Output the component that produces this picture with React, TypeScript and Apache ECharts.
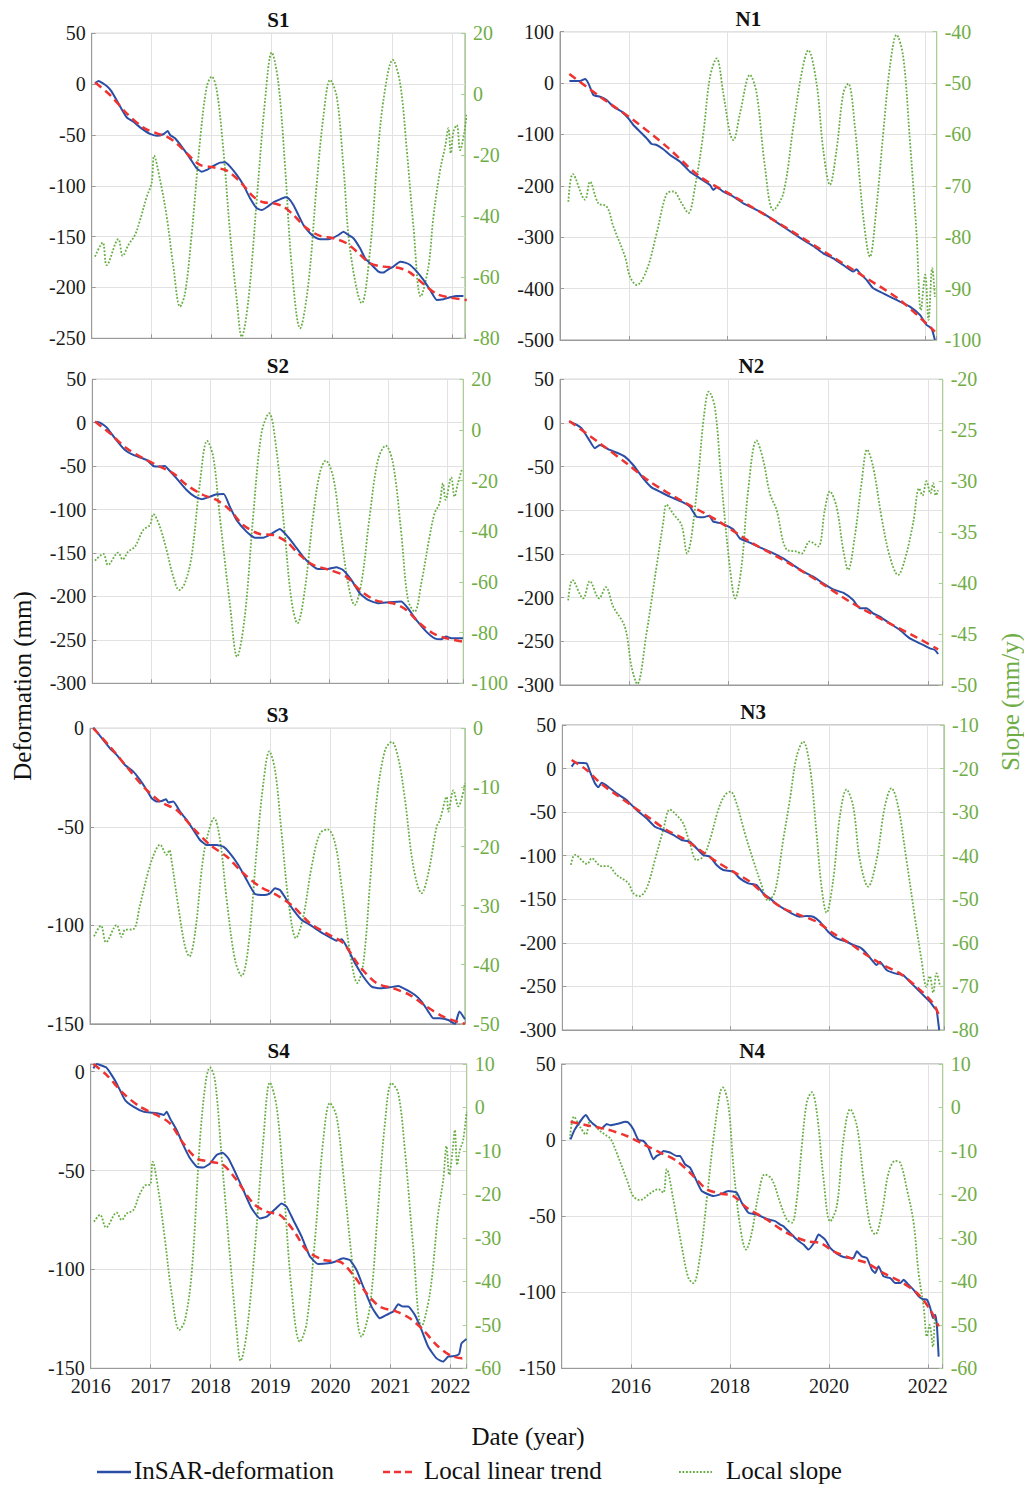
import React, { useEffect, useRef } from 'react';
import * as echarts from 'echarts';

// ---------------- DATA ----------------
type P = [number, number];

const S1_def: P[] = [[2016.056,0.8],[2016.111,3.1],[2016.25,-1.8],[2016.333,-7.4],[2016.444,-18.9],[2016.583,-32.6],[2016.694,-36.9],[2016.806,-42.5],[2016.972,-49.0],[2017.083,-50.7],[2017.194,-49.3],[2017.267,-46.1],[2017.306,-50.0],[2017.389,-53.3],[2017.5,-61.5],[2017.639,-73.0],[2017.75,-82.8],[2017.833,-86.1],[2017.917,-84.4],[2018.028,-80.5],[2018.139,-77.2],[2018.222,-76.9],[2018.306,-81.1],[2018.417,-89.3],[2018.528,-99.2],[2018.639,-112.3],[2018.75,-122.1],[2018.833,-123.8],[2018.917,-121.1],[2019.028,-116.2],[2019.139,-113.3],[2019.222,-111.3],[2019.278,-112.3],[2019.361,-118.9],[2019.444,-128.7],[2019.528,-138.5],[2019.639,-146.7],[2019.722,-150.7],[2019.806,-152.6],[2019.944,-152.6],[2020.028,-151.0],[2020.111,-148.4],[2020.194,-145.1],[2020.278,-148.4],[2020.361,-151.6],[2020.472,-161.5],[2020.556,-171.3],[2020.667,-177.9],[2020.778,-184.4],[2020.861,-185.4],[2020.944,-182.1],[2021.028,-179.5],[2021.139,-174.6],[2021.222,-175.6],[2021.306,-177.9],[2021.417,-184.4],[2021.528,-192.6],[2021.639,-202.5],[2021.75,-212.3],[2021.861,-211.6],[2021.972,-209.7],[2022.083,-208.4],[2022.194,-208.4]];
const S1_trend: P[] = [[2016.056,1.5],[2016.306,-10.7],[2016.583,-28.7],[2016.861,-42.8],[2017.083,-48.4],[2017.25,-51.6],[2017.417,-58.2],[2017.583,-68.0],[2017.806,-79.5],[2018.028,-81.8],[2018.25,-85.1],[2018.472,-95.9],[2018.694,-110.7],[2018.861,-116.2],[2019.028,-117.2],[2019.194,-120.5],[2019.361,-128.7],[2019.583,-141.8],[2019.806,-149.3],[2020.028,-151.6],[2020.25,-156.6],[2020.417,-164.8],[2020.639,-176.2],[2020.861,-179.5],[2021.139,-181.1],[2021.306,-185.4],[2021.528,-196.6],[2021.75,-206.4],[2021.972,-210.0],[2022.25,-212.3]];
const S1_slope: P[] = [[2016.056,-53.2],[2016.183,-48.6],[2016.25,-56.0],[2016.444,-47.5],[2016.517,-53.0],[2016.611,-49.4],[2016.722,-46.1],[2016.806,-41.2],[2016.917,-33.6],[2017.0,-29.0],[2017.039,-20.1],[2017.139,-28.1],[2017.25,-40.1],[2017.361,-56.5],[2017.472,-69.6],[2017.556,-65.2],[2017.667,-45.6],[2017.806,-15.0],[2017.917,2.5],[2018.0,5.8],[2018.083,1.4],[2018.194,-18.3],[2018.306,-45.6],[2018.417,-67.4],[2018.5,-79.5],[2018.611,-67.4],[2018.75,-34.6],[2018.889,-1.9],[2019.0,13.7],[2019.111,3.6],[2019.222,-23.7],[2019.333,-56.5],[2019.472,-76.7],[2019.611,-62.0],[2019.75,-29.2],[2019.861,-7.3],[2019.972,4.7],[2020.083,-0.8],[2020.194,-23.7],[2020.306,-51.0],[2020.5,-68.5],[2020.639,-51.0],[2020.75,-23.7],[2020.861,-1.9],[2021.017,11.3],[2021.139,3.6],[2021.25,-18.3],[2021.361,-43.4],[2021.483,-66.3],[2021.611,-56.5],[2021.694,-40.1],[2021.806,-24.8],[2021.889,-17.2],[2021.944,-11.1],[2021.983,-19.3],[2022.028,-12.2],[2022.083,-10.1],[2022.139,-18.3],[2022.206,-12.8],[2022.25,-6.2]];

const N1_def: P[] = [[2014.79,4.0],[2015.007,4.0],[2015.108,7.9],[2015.176,-0.5],[2015.277,-23.2],[2015.412,-26.5],[2015.547,-32.9],[2015.682,-45.9],[2015.851,-55.6],[2015.986,-68.6],[2016.088,-81.6],[2016.223,-94.6],[2016.358,-107.5],[2016.459,-118.5],[2016.561,-120.5],[2016.696,-128.9],[2016.831,-139.9],[2017.034,-152.9],[2017.236,-172.4],[2017.439,-185.3],[2017.642,-198.3],[2017.709,-208.0],[2017.777,-202.9],[2017.912,-211.3],[2018.115,-221.0],[2018.318,-234.0],[2018.52,-243.7],[2018.723,-253.4],[2018.926,-266.4],[2019.128,-279.4],[2019.331,-292.4],[2019.534,-305.3],[2019.736,-317.0],[2019.939,-331.3],[2020.142,-341.0],[2020.345,-354.0],[2020.547,-366.9],[2020.615,-362.4],[2020.682,-370.2],[2020.818,-383.1],[2020.953,-399.4],[2021.155,-409.1],[2021.358,-418.8],[2021.493,-425.3],[2021.696,-435.0],[2021.899,-451.2],[2022.034,-470.7],[2022.135,-477.2],[2022.203,-499.9]];
const N1_trend: P[] = [[2014.79,17.6],[2015.412,-26.5],[2016.088,-71.9],[2016.764,-123.7],[2017.439,-182.1],[2018.115,-219.7],[2019.128,-278.1],[2020.142,-339.0],[2020.818,-379.9],[2021.493,-422.0],[2022.203,-483.7]];
const N1_slope: P[] = [[2014.77,-73.1],[2014.86,-67.7],[2015.108,-72.7],[2015.209,-69.2],[2015.378,-73.4],[2015.547,-74.0],[2015.682,-77.9],[2015.919,-83.8],[2016.02,-87.7],[2016.155,-89.3],[2016.358,-86.4],[2016.561,-79.2],[2016.764,-71.5],[2016.899,-71.1],[2017.068,-73.4],[2017.203,-75.3],[2017.338,-70.2],[2017.507,-59.8],[2017.642,-48.8],[2017.777,-45.2],[2017.912,-52.0],[2018.047,-59.8],[2018.115,-61.1],[2018.25,-55.9],[2018.453,-48.4],[2018.588,-52.0],[2018.757,-66.3],[2018.926,-74.7],[2019.128,-71.5],[2019.331,-58.5],[2019.5,-48.1],[2019.635,-43.6],[2019.804,-50.1],[2019.939,-63.0],[2020.074,-69.8],[2020.209,-63.0],[2020.345,-52.0],[2020.446,-50.1],[2020.581,-58.5],[2020.75,-76.0],[2020.885,-83.8],[2021.02,-74.0],[2021.155,-59.8],[2021.291,-46.8],[2021.426,-40.6],[2021.561,-44.9],[2021.696,-61.1],[2021.831,-79.2],[2021.919,-94.2],[2022.007,-87.3],[2022.074,-96.1],[2022.149,-86.0],[2022.203,-91.6]];

const S2_def: P[] = [[2016.073,1.3],[2016.129,0.1],[2016.242,-5.3],[2016.383,-17.9],[2016.552,-31.4],[2016.692,-37.1],[2016.917,-42.9],[2017.03,-49.8],[2017.142,-50.5],[2017.227,-49.8],[2017.283,-53.6],[2017.424,-64.0],[2017.593,-77.4],[2017.733,-85.1],[2017.846,-88.1],[2017.987,-85.1],[2018.099,-82.4],[2018.222,-82.0],[2018.324,-96.6],[2018.437,-111.9],[2018.606,-125.4],[2018.746,-132.3],[2018.887,-132.3],[2018.999,-129.2],[2019.084,-125.4],[2019.168,-122.3],[2019.252,-127.3],[2019.393,-138.8],[2019.562,-154.1],[2019.703,-163.7],[2019.815,-168.3],[2019.984,-168.3],[2020.125,-166.4],[2020.237,-169.5],[2020.378,-181.0],[2020.518,-196.3],[2020.659,-204.0],[2020.828,-207.9],[2021.025,-206.7],[2021.222,-205.9],[2021.334,-213.6],[2021.475,-227.1],[2021.644,-240.5],[2021.785,-248.2],[2021.897,-249.3],[2021.981,-246.2],[2022.066,-248.2],[2022.264,-248.2]];
const S2_trend: P[] = [[2016.045,1.3],[2016.298,-12.2],[2016.58,-29.4],[2016.861,-40.9],[2017.142,-50.5],[2017.368,-58.2],[2017.593,-71.6],[2017.874,-83.2],[2018.099,-88.9],[2018.324,-100.4],[2018.549,-117.7],[2018.831,-128.1],[2019.056,-129.2],[2019.281,-136.9],[2019.506,-152.2],[2019.731,-163.7],[2020.012,-169.5],[2020.293,-177.2],[2020.518,-192.5],[2020.8,-204.8],[2021.082,-207.9],[2021.307,-215.5],[2021.532,-230.9],[2021.757,-242.4],[2021.982,-248.2],[2022.264,-252.0]];
const S2_slope: P[] = [[2016.045,-51.6],[2016.186,-48.9],[2016.265,-53.3],[2016.439,-48.4],[2016.512,-51.1],[2016.608,-48.0],[2016.72,-46.1],[2016.861,-39.5],[2016.974,-37.5],[2017.03,-33.2],[2017.142,-38.2],[2017.255,-47.4],[2017.368,-57.9],[2017.469,-63.2],[2017.564,-60.5],[2017.677,-50.0],[2017.818,-21.1],[2017.941,-4.3],[2018.043,-10.5],[2018.155,-34.2],[2018.324,-68.4],[2018.448,-89.5],[2018.577,-73.7],[2018.718,-34.2],[2018.859,-1.3],[2018.988,6.6],[2019.112,-7.9],[2019.253,-40.8],[2019.365,-67.1],[2019.467,-76.3],[2019.591,-63.2],[2019.731,-34.2],[2019.844,-17.1],[2019.945,-12.1],[2020.069,-18.4],[2020.181,-36.8],[2020.322,-60.5],[2020.434,-69.1],[2020.547,-60.5],[2020.687,-34.2],[2020.828,-11.8],[2020.958,-6.2],[2021.082,-13.2],[2021.222,-40.8],[2021.335,-67.1],[2021.447,-71.7],[2021.56,-60.5],[2021.7,-42.1],[2021.785,-32.9],[2021.869,-28.9],[2021.926,-21.1],[2021.971,-27.6],[2022.066,-18.7],[2022.122,-26.3],[2022.178,-21.1],[2022.252,-15.1]];

const N2_def: P[] = [[2014.804,1.5],[2014.918,-1.1],[2015.051,-6.1],[2015.185,-17.6],[2015.319,-29.0],[2015.419,-25.2],[2015.619,-30.9],[2015.786,-34.7],[2015.92,-38.5],[2016.087,-48.1],[2016.287,-63.4],[2016.454,-73.7],[2016.621,-78.6],[2016.822,-84.4],[2017.055,-90.1],[2017.222,-95.8],[2017.356,-107.3],[2017.49,-108.0],[2017.61,-106.1],[2017.69,-113.0],[2017.857,-114.9],[2018.091,-121.8],[2018.224,-132.1],[2018.425,-137.0],[2018.625,-142.4],[2018.826,-147.3],[2019.093,-155.0],[2019.293,-162.6],[2019.493,-170.2],[2019.694,-175.9],[2019.894,-183.6],[2020.095,-190.5],[2020.295,-194.3],[2020.495,-202.7],[2020.629,-212.2],[2020.763,-212.2],[2020.896,-217.9],[2021.03,-221.8],[2021.23,-229.4],[2021.431,-237.0],[2021.631,-246.6],[2021.832,-252.3],[2022.032,-258.0],[2022.132,-259.9],[2022.199,-264.5]];
const N2_trend: P[] = [[2014.804,2.3],[2015.419,-23.3],[2015.953,-46.2],[2016.421,-67.2],[2017.089,-90.1],[2017.757,-111.1],[2018.425,-135.9],[2019.093,-156.9],[2019.761,-179.8],[2020.429,-204.6],[2021.097,-225.6],[2021.765,-245.4],[2022.199,-259.2]];
const N2_slope: P[] = [[2014.784,-41.7],[2014.871,-39.7],[2015.085,-41.5],[2015.218,-39.8],[2015.405,-41.5],[2015.539,-40.4],[2015.686,-42.3],[2015.92,-44.3],[2016.053,-48.2],[2016.167,-49.9],[2016.354,-44.9],[2016.554,-38.4],[2016.688,-34.1],[2016.755,-32.3],[2016.888,-33.2],[2017.055,-34.3],[2017.169,-37.1],[2017.256,-35.4],[2017.389,-29.6],[2017.503,-23.7],[2017.603,-21.2],[2017.723,-22.7],[2017.857,-30.2],[2018.024,-38.4],[2018.131,-41.5],[2018.258,-38.4],[2018.391,-30.9],[2018.558,-26.0],[2018.692,-27.9],[2018.826,-31.2],[2018.959,-32.8],[2019.16,-36.7],[2019.36,-36.9],[2019.46,-37.1],[2019.627,-35.9],[2019.794,-36.4],[2019.928,-32.8],[2020.028,-31.0],[2020.162,-32.5],[2020.295,-36.7],[2020.395,-38.7],[2020.529,-35.4],[2020.663,-30.2],[2020.776,-26.9],[2020.896,-28.6],[2021.063,-33.5],[2021.23,-37.4],[2021.397,-39.2],[2021.531,-37.7],[2021.698,-34.1],[2021.818,-30.7],[2021.885,-31.4],[2021.965,-30.0],[2022.045,-31.2],[2022.099,-30.2],[2022.152,-31.4],[2022.199,-30.9]];

const S3_def: P[] = [[2016.056,0.5],[2016.167,-3.9],[2016.333,-10.2],[2016.444,-13.5],[2016.583,-18.6],[2016.722,-22.0],[2016.833,-26.2],[2016.944,-31.3],[2017.028,-35.5],[2017.111,-37.2],[2017.194,-36.9],[2017.267,-36.0],[2017.306,-37.7],[2017.389,-37.2],[2017.5,-42.3],[2017.611,-46.5],[2017.722,-51.6],[2017.833,-56.7],[2017.944,-59.2],[2018.111,-59.2],[2018.222,-60.1],[2018.333,-63.5],[2018.472,-69.4],[2018.611,-77.0],[2018.75,-84.1],[2018.917,-84.6],[2019.0,-83.8],[2019.083,-81.2],[2019.167,-82.1],[2019.278,-87.1],[2019.389,-92.2],[2019.528,-97.3],[2019.667,-99.8],[2019.833,-103.2],[2020.0,-106.1],[2020.111,-107.8],[2020.194,-107.1],[2020.306,-112.5],[2020.417,-119.3],[2020.556,-126.1],[2020.694,-131.1],[2020.833,-132.0],[2021.0,-131.5],[2021.139,-130.8],[2021.278,-132.8],[2021.417,-135.4],[2021.528,-138.7],[2021.639,-143.8],[2021.722,-147.2],[2021.833,-147.2],[2021.972,-148.1],[2022.083,-150.1],[2022.156,-143.8],[2022.25,-147.7]];
const S3_trend: P[] = [[2016.056,0],[2016.333,-9.3],[2016.611,-19.5],[2016.889,-29.6],[2017.167,-37.2],[2017.444,-41.5],[2017.722,-50.8],[2018.0,-59.2],[2018.278,-65.1],[2018.556,-73.6],[2018.833,-80.4],[2019.111,-84.6],[2019.389,-90.5],[2019.667,-99.0],[2019.944,-104.1],[2020.222,-109.1],[2020.5,-121.0],[2020.778,-129.4],[2021.056,-132.0],[2021.333,-135.4],[2021.611,-141.3],[2021.889,-146.4],[2022.25,-150.1]];
const S3_slope: P[] = [[2016.067,-35.2],[2016.183,-33.4],[2016.267,-36.2],[2016.444,-33.3],[2016.528,-35.3],[2016.583,-34.1],[2016.722,-34.0],[2016.833,-29.9],[2016.972,-24.2],[2017.083,-20.9],[2017.167,-19.7],[2017.278,-21.4],[2017.322,-20.6],[2017.361,-22.5],[2017.472,-30.2],[2017.583,-36.9],[2017.656,-38.6],[2017.75,-34.7],[2017.889,-21.7],[2018.0,-16.6],[2018.067,-15.2],[2018.167,-18.9],[2018.278,-29.0],[2018.417,-39.2],[2018.528,-41.9],[2018.639,-36.9],[2018.778,-20.6],[2018.889,-9.3],[2018.989,-3.9],[2019.083,-7.0],[2019.194,-17.8],[2019.306,-29.0],[2019.433,-35.5],[2019.556,-31.8],[2019.694,-23.4],[2019.833,-17.8],[2019.961,-17.1],[2020.083,-19.4],[2020.194,-26.8],[2020.333,-38.0],[2020.456,-43.1],[2020.556,-39.7],[2020.667,-26.2],[2020.778,-12.1],[2020.917,-3.7],[2021.028,-2.3],[2021.139,-5.1],[2021.25,-12.1],[2021.389,-23.4],[2021.528,-27.9],[2021.639,-24.5],[2021.778,-16.6],[2021.833,-15.5],[2021.944,-11.6],[2021.972,-14.1],[2022.056,-10.5],[2022.139,-13.2],[2022.25,-9.3]];

const N3_def: P[] = [[2014.769,2.2],[2014.837,6.8],[2015.073,6.0],[2015.141,-3.6],[2015.242,-16.9],[2015.31,-21.5],[2015.378,-16.2],[2015.513,-20.8],[2015.682,-28.4],[2015.885,-36.1],[2016.088,-47.6],[2016.291,-57.1],[2016.46,-66.7],[2016.629,-70.5],[2016.832,-76.2],[2017.001,-82.0],[2017.171,-83.9],[2017.306,-91.5],[2017.441,-99.2],[2017.576,-101.1],[2017.712,-110.7],[2017.847,-116.4],[2018.05,-118.3],[2018.185,-126.0],[2018.354,-131.7],[2018.524,-133.6],[2018.659,-143.2],[2018.795,-148.9],[2018.93,-155.4],[2019.065,-160.4],[2019.234,-166.1],[2019.403,-170.0],[2019.539,-169.2],[2019.674,-170.0],[2019.809,-175.7],[2019.978,-187.2],[2020.148,-194.8],[2020.351,-198.7],[2020.486,-202.5],[2020.587,-204.4],[2020.655,-206.3],[2020.757,-212.1],[2020.893,-221.6],[2020.96,-225.4],[2021.028,-221.6],[2021.164,-231.2],[2021.333,-235.0],[2021.502,-236.9],[2021.637,-244.6],[2021.806,-254.1],[2021.942,-261.8],[2022.043,-267.5],[2022.144,-275.2],[2022.178,-276.3],[2022.232,-300.0]];
const N3_trend: P[] = [[2014.769,9.8],[2015.073,-1.6],[2015.344,-16.2],[2015.682,-30.3],[2016.02,-43.7],[2016.359,-57.1],[2016.697,-70.5],[2017.035,-80.1],[2017.373,-93.5],[2017.712,-106.8],[2018.05,-118.3],[2018.388,-129.8],[2018.727,-147.0],[2019.065,-160.4],[2019.403,-168.1],[2019.742,-175.7],[2020.08,-189.1],[2020.418,-200.6],[2020.757,-214.0],[2021.095,-225.4],[2021.433,-235.0],[2021.772,-250.3],[2022.11,-269.4],[2022.232,-284.0]];
const N3_slope: P[] = [[2014.755,-42.1],[2014.837,-39.8],[2015.087,-41.9],[2015.175,-40.6],[2015.378,-42.4],[2015.513,-42.4],[2015.682,-44.4],[2015.919,-46.3],[2016.02,-48.6],[2016.142,-49.3],[2016.291,-47.5],[2016.46,-41.0],[2016.629,-34.1],[2016.765,-29.4],[2016.9,-30.7],[2017.035,-32.6],[2017.171,-37.2],[2017.306,-41.0],[2017.441,-40.2],[2017.576,-36.4],[2017.746,-29.5],[2017.881,-26.1],[2017.996,-25.3],[2018.118,-28.0],[2018.287,-34.9],[2018.456,-41.0],[2018.625,-46.7],[2018.76,-50.3],[2018.896,-48.3],[2019.065,-36.4],[2019.2,-27.2],[2019.336,-17.3],[2019.471,-13.8],[2019.607,-19.6],[2019.742,-34.9],[2019.843,-47.1],[2019.945,-53.1],[2020.08,-45.6],[2020.215,-31.0],[2020.351,-24.8],[2020.486,-28.7],[2020.622,-41.0],[2020.791,-47.1],[2020.96,-41.0],[2021.129,-28.7],[2021.264,-24.5],[2021.399,-28.7],[2021.568,-41.0],[2021.737,-54.0],[2021.873,-63.9],[2021.974,-70.1],[2022.042,-67.6],[2022.11,-71.4],[2022.178,-67.0],[2022.245,-69.7]];

const S4_def: P[] = [[2016.044,1.7],[2016.1,3.9],[2016.156,3.4],[2016.256,2.2],[2016.35,-1.7],[2016.433,-5.9],[2016.572,-14.3],[2016.711,-17.7],[2016.878,-20.2],[2017.017,-20.7],[2017.128,-21.1],[2017.222,-21.9],[2017.267,-20.2],[2017.322,-23.6],[2017.433,-29.5],[2017.544,-37.1],[2017.656,-43.8],[2017.767,-48.0],[2017.878,-48.4],[2017.989,-46.4],[2018.1,-42.1],[2018.2,-41.0],[2018.294,-43.8],[2018.406,-50.6],[2018.544,-59.8],[2018.683,-69.1],[2018.822,-74.2],[2018.933,-73.3],[2019.072,-69.6],[2019.183,-66.6],[2019.267,-68.3],[2019.378,-75.0],[2019.517,-83.4],[2019.656,-93.5],[2019.794,-97.3],[2019.961,-96.9],[2020.072,-96.1],[2020.211,-94.4],[2020.322,-95.2],[2020.433,-100.3],[2020.544,-108.7],[2020.683,-118.8],[2020.822,-124.7],[2020.933,-123.0],[2021.044,-121.3],[2021.128,-117.6],[2021.211,-118.8],[2021.294,-118.8],[2021.406,-123.0],[2021.517,-130.6],[2021.628,-139.1],[2021.767,-145.0],[2021.878,-146.6],[2021.961,-144.1],[2022.072,-143.8],[2022.144,-142.8],[2022.183,-137.4],[2022.267,-135.2]];
const S4_trend: P[] = [[2016.044,3.9],[2016.267,-1.7],[2016.544,-11.0],[2016.822,-17.7],[2017.1,-21.9],[2017.322,-26.1],[2017.544,-36.2],[2017.767,-43.8],[2017.989,-45.5],[2018.211,-47.2],[2018.433,-54.8],[2018.711,-66.6],[2018.933,-70.8],[2019.156,-72.5],[2019.378,-80.1],[2019.6,-90.2],[2019.878,-95.2],[2020.156,-96.1],[2020.378,-102.8],[2020.6,-112.1],[2020.822,-118.8],[2021.1,-121.3],[2021.322,-124.7],[2021.544,-130.6],[2021.767,-138.2],[2021.989,-143.3],[2022.183,-144.9],[2022.267,-143.3]];
const S4_slope: P[] = [[2016.056,-26.3],[2016.156,-24.7],[2016.256,-27.6],[2016.433,-24.2],[2016.517,-25.9],[2016.6,-24.4],[2016.711,-23.6],[2016.822,-19.8],[2016.933,-17.8],[2016.989,-17.8],[2017.033,-12.5],[2017.128,-19.0],[2017.239,-30.5],[2017.35,-42.8],[2017.478,-51.2],[2017.572,-48.9],[2017.683,-38.2],[2017.822,-7.5],[2017.922,6.3],[2017.989,9.2],[2018.072,6.3],[2018.183,-11.3],[2018.322,-34.3],[2018.433,-51.2],[2018.5,-58.3],[2018.6,-52.0],[2018.739,-32.0],[2018.878,-7.5],[2018.989,5.7],[2019.1,0.2],[2019.211,-16.7],[2019.35,-42.0],[2019.489,-53.9],[2019.6,-49.7],[2019.739,-30.5],[2019.878,-7.5],[2019.989,1.0],[2020.1,-2.1],[2020.211,-15.2],[2020.35,-34.3],[2020.517,-52.7],[2020.656,-45.8],[2020.794,-22.8],[2020.906,-3.7],[2021.017,5.6],[2021.128,3.3],[2021.239,-9.8],[2021.378,-32.0],[2021.517,-50.4],[2021.656,-42.8],[2021.794,-24.4],[2021.878,-16.7],[2021.933,-8.9],[2021.978,-15.5],[2022.033,-10.2],[2022.072,-5.2],[2022.111,-13.2],[2022.156,-9.8],[2022.211,-7.5],[2022.267,-1.0]];

const N4_def: P[] = [[2014.779,0.5],[2014.867,7.1],[2015.089,16.4],[2015.171,12.6],[2015.305,8.9],[2015.407,7.6],[2015.508,10.5],[2015.588,9.8],[2015.777,11.1],[2015.879,12.0],[2015.946,11.6],[2016.047,7.1],[2016.148,0.1],[2016.25,-0.5],[2016.351,-4.9],[2016.452,-12.6],[2016.519,-10.4],[2016.587,-9.3],[2016.654,-7.1],[2016.789,-8.2],[2016.924,-10.4],[2016.991,-10.4],[2017.092,-15.9],[2017.194,-18.1],[2017.295,-24.7],[2017.43,-33.5],[2017.666,-36.8],[2017.801,-35.7],[2017.969,-33.5],[2018.138,-34.6],[2018.239,-41.2],[2018.374,-47.8],[2018.542,-48.9],[2018.744,-51.8],[2018.913,-53.3],[2019.014,-55.5],[2019.082,-56.6],[2019.217,-61.0],[2019.352,-65.4],[2019.487,-68.7],[2019.588,-72.0],[2019.722,-66.5],[2019.79,-62.1],[2019.925,-65.4],[2020.026,-70.9],[2020.16,-74.6],[2020.295,-76.8],[2020.464,-77.5],[2020.498,-77.5],[2020.565,-73.1],[2020.666,-76.4],[2020.768,-77.5],[2020.869,-85.2],[2020.936,-87.4],[2021.003,-83.0],[2021.105,-89.6],[2021.24,-90.7],[2021.341,-94.0],[2021.442,-94.0],[2021.509,-91.8],[2021.61,-95.1],[2021.712,-98.4],[2021.813,-102.7],[2021.9,-104.5],[2021.981,-104.9],[2022.049,-110.4],[2022.103,-117.0],[2022.15,-114.8],[2022.184,-122.5],[2022.218,-142.3]];
const N4_trend: P[] = [[2014.779,12.0],[2015.103,9.8],[2015.508,7.1],[2015.912,2.7],[2016.25,-2.7],[2016.587,-8.2],[2016.924,-13.7],[2017.261,-23.6],[2017.531,-32.4],[2017.801,-35.1],[2018.07,-36.8],[2018.34,-44.5],[2018.744,-52.2],[2019.149,-61.0],[2019.554,-66.5],[2019.824,-67.6],[2020.093,-73.1],[2020.43,-77.5],[2020.768,-80.8],[2021.105,-87.4],[2021.442,-92.9],[2021.779,-100.5],[2022.049,-111.5],[2022.218,-122.5]];
const N4_slope: P[] = [[2014.766,-7.3],[2014.847,-2.1],[2014.968,-4.4],[2015.089,-6.2],[2015.171,-3.1],[2015.272,-4.2],[2015.373,-5.4],[2015.508,-6.5],[2015.588,-7.2],[2015.71,-10.4],[2015.912,-16.5],[2016.047,-20.4],[2016.182,-21.3],[2016.384,-19.8],[2016.553,-18.8],[2016.654,-19.6],[2016.722,-14.2],[2016.856,-21.2],[2017.025,-31.9],[2017.16,-39.2],[2017.261,-40.4],[2017.396,-34.2],[2017.531,-21.2],[2017.666,-7.3],[2017.801,3.5],[2017.855,4.6],[2017.969,0.4],[2018.07,-13.5],[2018.205,-27.3],[2018.326,-32.7],[2018.441,-28.8],[2018.57,-20.4],[2018.705,-15.4],[2018.846,-16.5],[2019.014,-21.9],[2019.149,-25.8],[2019.25,-26.5],[2019.351,-21.2],[2019.453,-8.8],[2019.554,1.2],[2019.655,3.5],[2019.757,-1.2],[2019.892,-16.5],[2020.026,-26.2],[2020.16,-22.7],[2020.295,-7.3],[2020.43,-0.4],[2020.565,-4.2],[2020.7,-16.5],[2020.835,-27.3],[2020.936,-29.2],[2021.071,-24.2],[2021.206,-15.0],[2021.341,-12.3],[2021.442,-12.7],[2021.577,-18.8],[2021.712,-26.5],[2021.813,-38.1],[2021.914,-45.8],[2021.981,-52.7],[2022.035,-50.0],[2022.103,-55.0],[2022.15,-48.1],[2022.197,-51.2]];

const PANEL_NAMES = ['S1', 'N1', 'S2', 'N2', 'S3', 'N3', 'S4', 'N4'];
const LEFT_RANGES: P[] = [[-250, 50], [-500, 100], [-300, 50], [-300, 50], [-150, 0], [-300, 50], [-150, 3.9], [-150, 50]];
const LEFT_STEPS = [50, 100, 50, 50, 50, 50, 50, 50];
const RIGHT_RANGES: P[] = [[-80, 20], [-100, -40], [-100, 20], [-50, -20], [-50, 0], [-80, -10], [-60, 10], [-60, 10]];
const RIGHT_STEPS = [20, 10, 20, 5, 10, 10, 10, 10];
const X_RANGES: P[] = [[2016, 2022.22], [2014.6, 2022.24], [2016, 2022.27], [2014.62, 2022.29], [2016, 2022.25], [2014.58, 2022.33], [2016, 2022.27], [2014.6, 2022.3]];
const X_STEPS = [1, 2, 1, 2, 1, 2, 1, 2];

const DEF = [S1_def, N1_def, S2_def, N2_def, S3_def, N3_def, S4_def, N4_def];
const TREND = [S1_trend, N1_trend, S2_trend, N2_trend, S3_trend, N3_trend, S4_trend, N4_trend];
const SLOPE = [S1_slope, N1_slope, S2_slope, N2_slope, S3_slope, N3_slope, S4_slope, N4_slope];

const LEGEND_LABELS = ['InSAR-deformation', 'Local linear trend', 'Local slope'];

// ---------------- LAYOUT / STYLE ----------------
const BOXES = [
  [91.7, 33.3, 373.3, 305],
  [560, 31.7, 376.7, 308.3],
  [92.3, 379.3, 371, 304],
  [560, 379.3, 382.7, 305.7],
  [90, 728.3, 375, 295.5],
  [562.3, 725, 381.7, 305],
  [90.7, 1064, 376, 304.3],
  [561.7, 1064, 381, 304.3],
];
const FONT = '"Liberation Serif", "Times New Roman", serif';
const BLUE = '#2a4ea6';
const RED = '#ee3330';
const GREEN = '#66ad42';
const GREEN_TXT = '#70ad47';
const GRID = '#e2e2e2';
const AXIS = '#9a9a9a';

function isMult(v: number, step: number) {
  const r = v / step;
  return Math.abs(r - Math.round(r)) < 1e-6;
}

function buildOption() {
  const grid: any[] = [];
  const xAxis: any[] = [];
  const yAxis: any[] = [];
  const series: any[] = [];
  const graphic: any[] = [];

  PANEL_NAMES.forEach((name, i) => {
    const [l, t, w, h] = BOXES[i];
    grid.push({ left: l, top: t, width: w, height: h, show: true, borderColor: AXIS, borderWidth: 1, containLabel: false });
    const showX = i >= 6;
    const xs = X_STEPS[i];
    const xa: any = {
      type: 'value', gridIndex: i, min: X_RANGES[i][0], max: X_RANGES[i][1],
      axisLine: { show: true, onZero: false, lineStyle: { color: AXIS } },
      axisTick: { show: true, inside: true, length: 4, lineStyle: { color: AXIS } },
      axisLabel: {
        show: showX, color: '#1a1a1a', fontSize: 20, fontFamily: FONT, margin: 8,
        showMinLabel: true, showMaxLabel: true,
        formatter: (v: number) => (isMult(v, xs) ? String(Math.round(v)) : ''),
      },
      splitLine: { show: true, lineStyle: { color: GRID, width: 1 } },
    };
    if (xs === 1) xa.interval = 1; else { xa.minInterval = 2; xa.maxInterval = 2; }
    xAxis.push(xa);

    const ls = LEFT_STEPS[i];
    yAxis.push({
      type: 'value', gridIndex: i, position: 'left', min: LEFT_RANGES[i][0], max: LEFT_RANGES[i][1], interval: ls,
      axisLine: { show: true, onZero: false, lineStyle: { color: AXIS } },
      axisTick: { show: true, inside: true, length: 4, lineStyle: { color: AXIS } },
      axisLabel: {
        color: '#1a1a1a', fontSize: 20, fontFamily: FONT, margin: 6, showMinLabel: true, showMaxLabel: true,
        formatter: (v: number) => (isMult(v, ls) ? String(Math.round(v)) : ''),
      },
      splitLine: { show: true, lineStyle: { color: GRID, width: 1 } },
    });
    const rs = RIGHT_STEPS[i];
    yAxis.push({
      type: 'value', gridIndex: i, position: 'right', min: RIGHT_RANGES[i][0], max: RIGHT_RANGES[i][1], interval: rs,
      axisLine: { show: true, onZero: false, lineStyle: { color: '#a9d18e' } },
      axisTick: { show: true, inside: true, length: 4, lineStyle: { color: '#a9d18e' } },
      axisLabel: {
        color: GREEN_TXT, fontSize: 20, fontFamily: FONT, margin: 8, showMinLabel: true, showMaxLabel: true,
        formatter: (v: number) => (isMult(v, rs) ? String(Math.round(v)) : ''),
      },
      splitLine: { show: false },
    });

    series.push({
      name: 'Local slope', type: 'line', xAxisIndex: i, yAxisIndex: 2 * i + 1, data: SLOPE[i],
      symbol: 'none', smooth: 0.35, clip: true, z: 2,
      lineStyle: { color: GREEN, width: 1.8, type: [1.8, 1.7] },
    });
    series.push({
      name: 'InSAR-deformation', type: 'line', xAxisIndex: i, yAxisIndex: 2 * i, data: DEF[i],
      symbol: 'none', smooth: 0.15, clip: true, z: 3,
      lineStyle: { color: BLUE, width: 2 },
    });
    series.push({
      name: 'Local linear trend', type: 'line', xAxisIndex: i, yAxisIndex: 2 * i, data: TREND[i],
      symbol: 'none', smooth: 0.3, clip: true, z: 4,
      lineStyle: { color: RED, width: 2.5, type: [8, 5] },
    });

    graphic.push({
      type: 'text', x: l + w / 2, y: t - 13,
      style: { text: name, fill: '#111', fontSize: 21, fontWeight: 'bold', fontFamily: FONT, align: 'center', verticalAlign: 'middle' },
    });
  });

  // axis titles
  graphic.push({
    type: 'text', x: 22, y: 686, rotation: Math.PI / 2,
    style: { text: 'Deformation (mm)', fill: '#111', fontSize: 25, fontFamily: FONT, align: 'center', verticalAlign: 'middle' },
  });
  graphic.push({
    type: 'text', x: 1010, y: 702, rotation: Math.PI / 2,
    style: { text: 'Slope (mm/y)', fill: GREEN_TXT, fontSize: 25, fontFamily: FONT, align: 'center', verticalAlign: 'middle' },
  });
  graphic.push({
    type: 'text', x: 528, y: 1436,
    style: { text: 'Date (year)', fill: '#111', fontSize: 25, fontFamily: FONT, align: 'center', verticalAlign: 'middle' },
  });

  // legend
  const legendY = 1470;
  const legendItems = [
    { x1: 97, x2: 131, text: 134, color: BLUE, dash: null as any, width: 2.5 },
    { x1: 383, x2: 416, text: 424, color: RED, dash: [7, 4], width: 2.5 },
    { x1: 679, x2: 712, text: 726, color: GREEN, dash: [1.8, 1.7], width: 2 },
  ];
  legendItems.forEach((it, k) => {
    graphic.push({
      type: 'line', shape: { x1: it.x1, y1: legendY + 2, x2: it.x2, y2: legendY + 2 },
      style: { stroke: it.color, lineWidth: it.width, lineDash: it.dash },
    });
    graphic.push({
      type: 'text', x: it.text, y: legendY,
      style: { text: LEGEND_LABELS[k], fill: '#111', fontSize: 25, fontFamily: FONT, align: 'left', verticalAlign: 'middle' },
    });
  });

  return {
    animation: false,
    backgroundColor: '#ffffff',
    textStyle: { fontFamily: FONT },
    grid, xAxis, yAxis, series, graphic,
  };
}

export default function App() {
  const ref = useRef<HTMLDivElement>(null);
  useEffect(() => {
    document.body.style.margin = '0';
    if (!ref.current) return;
    const chart = echarts.init(ref.current, undefined, { renderer: 'svg' });
    chart.setOption(buildOption() as any);
    return () => chart.dispose();
  }, []);
  return <div ref={ref} style={{ width: 1024, height: 1485, background: '#fff' }} />;
}
